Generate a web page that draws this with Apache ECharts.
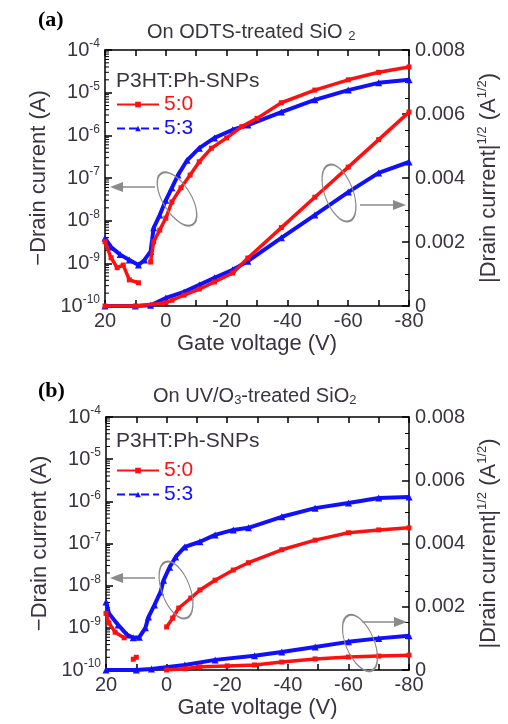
<!DOCTYPE html>
<html>
<head>
<meta charset="utf-8">
<script src="https://cdn.jsdelivr.net/npm/echarts@6/dist/echarts.min.js"></script>
<style>
html, body { margin: 0; padding: 0; background: #fff; }
#chart { width: 508px; height: 724px; }
</style>
</head>
<body>
<div id="chart"></div>
<script>
// (a) ODTS-treated SiO2, log branch, -Id (A)
var odtsRedLogVg = [20, 18, 16, 14, 12, 9, 7, 5, 4, 2, 0, -2, -5, -8, -11, -15, -20, -25, -30, -38, -49, -60, -70, -80];
var odtsRedLogI = [3.2e-9, 1.35e-9, 7.9e-10, 9.1e-10, 4.1e-10, 3.5e-10, null, 1.07e-9, 3.2e-9, 6.0e-9, 1.15e-8, 2.75e-8, 5.9e-8, 1.17e-7, 2.4e-7, 5.0e-7, 8.7e-7, 1.6e-6, 2.5e-6, 5.8e-6, 1.15e-5, 2.0e-5, 3.0e-5, 4.0e-5];
var odtsBlueLogVg = [20, 18, 15, 12, 9, 7, 5, 4, 2, 0, -2, -4, -7, -11, -16, -22, -27, -38, -49, -60, -70, -80];
var odtsBlueLogI = [3.9e-9, 2.4e-9, 1.6e-9, 1.2e-9, 9.1e-10, 1.2e-9, 1.9e-9, 6.8e-9, 1.35e-8, 3.0e-8, 5.9e-8, 1.17e-7, 2.6e-7, 5.0e-7, 8.7e-7, 1.35e-6, 1.74e-6, 3.5e-6, 6.8e-6, 1.15e-5, 1.7e-5, 2.0e-5];
// (a) sqrt branch, |Id|^1/2
var odtsRedSqVg = [20, 10, 0, -2, -6, -11, -16, -22, -27, -38, -49, -60, -70, -80];
var odtsRedSq = [0, 0, 0.0001, 0.00018, 0.00034, 0.00053, 0.00075, 0.00103, 0.0015, 0.00245, 0.0034, 0.00434, 0.0052, 0.00606];
var odtsBlueSqVg = [20, 10, 5, 0, -6, -11, -16, -22, -27, -38, -49, -60, -70, -80];
var odtsBlueSq = [0, 0, 0.00002, 0.00025, 0.00044, 0.00066, 0.00088, 0.00113, 0.0014, 0.00213, 0.00284, 0.00356, 0.00416, 0.0045];

// (b) UV/O3-treated SiO2
var uvRedLogVg = [20, 19, 17, 14, 12, 11, 10, 5, 0, -2, -4, -8, -11, -16, -22, -27, -38, -49, -60, -70, -80];
var uvRedLogI = [2.2e-9, 1.3e-9, 7.9e-10, 5.8e-10, null, 1.8e-10, 2.0e-10, null, 1.05e-9, 1.7e-9, 2.95e-9, 5.1e-9, 7.9e-9, 1.35e-8, 2.35e-8, 3.5e-8, 7.1e-8, 1.2e-7, 1.8e-7, 2.1e-7, 2.35e-7];
var uvBlueLogVg = [20, 19, 16, 13, 11, 9, 7, 6, 4, 2, 1, -1, -3, -6, -11, -16, -22, -27, -38, -49, -60, -70, -80];
var uvBlueLogI = [4.1e-9, 2.2e-9, 1.17e-9, 6.8e-10, 5.8e-10, 6.0e-10, 1.0e-9, 1.8e-9, 3.5e-9, 7.1e-9, 1.35e-8, 2.75e-8, 4.8e-8, 8.3e-8, 1.1e-7, 1.6e-7, 2.1e-7, 2.35e-7, 4.3e-7, 6.9e-7, 9.1e-7, 1.2e-6, 1.26e-6];
var uvRedSqVg = [0, -6, -11, -20, -29, -38, -49, -60, -70, -80];
var uvRedSq = [0, 0.00004, 0.0001, 0.00013, 0.00016, 0.00025, 0.00035, 0.00041, 0.00044, 0.00047];
var uvBlueSqVg = [20, 10, 5, -6, -16, -29, -38, -49, -60, -70, -80];
var uvBlueSq = [0, 0, 0.00003, 0.00016, 0.00032, 0.00045, 0.00057, 0.00073, 0.00089, 0.001, 0.00108];

// log axis minor ticks: 2..9 x 10^n
var logDecades = [-10, -9, -8, -7, -6, -5];
var logMinorMult = [2, 3, 4, 5, 6, 7, 8, 9];

var txt = '#3a3340';
var font = 'Liberation Sans';
var red = '#ff1010';
var blue = '#1010ff';

function pairs(vg, val) {
	return vg.map(function (v, i) { return [v, val[i] === null ? '-' : val[i]]; });
}

var minorTicks = [];
logDecades.forEach(function (d) {
	logMinorMult.forEach(function (m) { minorTicks.push([20, m * Math.pow(10, d)]); });
});

function xAx(grid, pos) {
	return {
		gridIndex: grid, type: 'value', min: -80, max: 20, interval: 10, inverse: true, position: pos,
		name: pos == 'bottom' ? 'Gate voltage (V)' : '', nameLocation: 'middle', nameGap: 27,
		nameTextStyle: { color: txt, fontSize: 22, fontFamily: font },
		axisLine: { onZero: false, lineStyle: { color: '#000', width: 1.5 } },
		axisTick: { inside: true, length: 6, lineStyle: { color: '#000', width: 1.5 } },
		axisLabel: {
			show: pos == 'bottom', color: txt, fontSize: 20, fontFamily: font, margin: 5,
			formatter: function (v) { return v % 20 == 0 ? String(v) : ''; }
		},
		splitLine: { show: false }
	};
}

function logAx(grid) {
	return {
		gridIndex: grid, type: 'log', min: 1e-10, max: 1e-4, position: 'left',
		name: '−Drain current (A)', nameLocation: 'middle', nameGap: 54, nameRotate: 90,
		nameTextStyle: { color: txt, fontSize: 22, fontFamily: font },
		axisLine: { onZero: false, lineStyle: { color: '#000', width: 1.5 } },
		axisTick: { inside: true, length: 7, lineStyle: { color: '#000', width: 1.5 } },
		minorTick: { show: false },
		axisLabel: {
			margin: 5, color: txt, fontFamily: font,
			formatter: function (v) { return '{b|10}{s|' + Math.round(Math.log10(v)) + '}'; },
			rich: {
				b: { fontSize: 20, lineHeight: 24, color: txt, fontFamily: font },
				s: { fontSize: 12, verticalAlign: 'top', color: txt, fontFamily: font }
			}
		},
		splitLine: { show: false }
	};
}

function sqAx(grid) {
	return {
		gridIndex: grid, type: 'value', min: 0, max: 0.008, interval: 0.002, position: 'right',
		name: '{n||Drain current|}{s|1/2}{n| (A}{s|1/2}{n|)}', nameLocation: 'middle', nameGap: 64, nameRotate: 90,
		nameTextStyle: {
			color: txt, fontFamily: font,
			rich: {
				n: { fontSize: 22, lineHeight: 26, color: txt, fontFamily: font },
				s: { fontSize: 13, verticalAlign: 'top', color: txt, fontFamily: font }
			}
		},
		axisLine: { onZero: false, lineStyle: { color: '#000', width: 1.5 } },
		axisTick: { inside: true, length: 7, lineStyle: { color: '#000', width: 1.5 } },
		minorTick: { show: true, splitNumber: 4, length: 4, lineStyle: { color: '#000', width: 1 } },
		axisLabel: {
			margin: 6, color: txt, fontSize: 20, fontFamily: font,
			formatter: function (v) { return v == 0 ? '0' : v.toFixed(3); }
		},
		splitLine: { show: false }
	};
}

function ser(name, xi, yi, data, color) {
	var isRed = name == '5:0';
	return {
		name: name, type: 'line', xAxisIndex: xi, yAxisIndex: yi, data: data,
		showAllSymbol: true, symbol: isRed ? 'rect' : 'triangle', symbolSize: isRed ? 5 : 7,
		itemStyle: { color: color },
		lineStyle: { color: color, width: isRed ? 3.5 : 4 },
		animation: false, z: isRed ? 3 : 2
	};
}

// short inward ticks at 2..9 of every decade on the log axis
function minorSer(xi, yi) {
	return {
		type: 'custom', xAxisIndex: xi, yAxisIndex: yi, data: minorTicks, silent: true, clip: false,
		renderItem: function (params, api) {
			var p = api.coord([api.value(0), api.value(1)]);
			return {
				type: 'line', shape: { x1: p[0], y1: p[1], x2: p[0] + 4, y2: p[1] },
				style: { stroke: '#000', lineWidth: 1 }
			};
		}
	};
}

function legend(top) {
	return {
		left: 116, top: top, orient: 'vertical', itemGap: 3, itemWidth: 42, itemHeight: 7,
		selectedMode: false, padding: 0,
		lineStyle: { width: 2 },
		textStyle: { fontSize: 21, fontFamily: font },
		data: [
			{ name: '5:0', textStyle: { color: red } },
			{ name: '5:3', textStyle: { color: blue }, lineStyle: { type: 'dashed', width: 2 } }
		]
	};
}

function ellipse(cx, cy, rot) {
	return {
		type: 'circle', shape: { cx: 0, cy: 0, r: 30 }, x: cx, y: cy, scaleX: 0.47, rotation: rot,
		style: { fill: 'none', stroke: '#8a8a8a', lineWidth: 2.2 }, z: 10
	};
}

function arrow(x1, x2, y) {
	var d = x2 > x1 ? 1 : -1;
	return [
		{ type: 'line', shape: { x1: x1, y1: y, x2: x2 - d * 10, y2: y }, style: { stroke: '#8a8a8a', lineWidth: 1.6 }, z: 10 },
		{ type: 'polygon', shape: { points: [[x2, y], [x2 - d * 13, y - 5], [x2 - d * 13, y + 5]] }, style: { fill: '#8a8a8a' }, z: 10 }
	];
}

var titleRich = {
	t: { fontSize: 20, fontWeight: 'normal', color: txt, fontFamily: font, lineHeight: 22 },
	sub: { fontSize: 13, fontWeight: 'normal', color: txt, fontFamily: font, verticalAlign: 'bottom' }
};

var chart = echarts.init(document.getElementById('chart'));
chart.setOption({
	animation: false,
	title: [
		{ text: '(a)', left: 38, top: 9, padding: 0, textStyle: { fontFamily: 'Liberation Serif', fontWeight: 'bold', fontSize: 22, color: '#000' } },
		{ text: '{t|On ODTS-treated SiO }{sub|2}', left: 147, top: 21, padding: 0, textStyle: { fontWeight: 'normal', rich: titleRich } },
		{ text: 'P3HT:Ph-SNPs', left: 116, top: 71, padding: 0, textStyle: { fontSize: 21, fontWeight: 'normal', color: txt, fontFamily: font } },
		{ text: '(b)', left: 38, top: 380, padding: 0, textStyle: { fontFamily: 'Liberation Serif', fontWeight: 'bold', fontSize: 22, color: '#000' } },
		{ text: '{t|On UV/O}{sub|3}{t|-treated SiO}{sub|2}', left: 153, top: 385, padding: 0, textStyle: { fontWeight: 'normal', rich: titleRich } },
		{ text: 'P3HT:Ph-SNPs', left: 116, top: 431, padding: 0, textStyle: { fontSize: 21, fontWeight: 'normal', color: txt, fontFamily: font } }
	],
	legend: [legend(94), legend(460)],
	grid: [
		{ left: 105, top: 50, width: 307, height: 256 },
		{ left: 106, top: 417, width: 306, height: 253 }
	],
	xAxis: [xAx(0, 'bottom'), xAx(0, 'top'), xAx(1, 'bottom'), xAx(1, 'top')],
	yAxis: [logAx(0), sqAx(0), logAx(1), sqAx(1)],
	series: [
		minorSer(0, 0),
		minorSer(2, 2),
		ser('5:0', 0, 0, pairs(odtsRedLogVg, odtsRedLogI), red),
		ser('5:3', 0, 0, pairs(odtsBlueLogVg, odtsBlueLogI), blue),
		ser('5:0', 0, 1, pairs(odtsRedSqVg, odtsRedSq), red),
		ser('5:3', 0, 1, pairs(odtsBlueSqVg, odtsBlueSq), blue),
		ser('5:0', 2, 2, pairs(uvRedLogVg, uvRedLogI), red),
		ser('5:3', 2, 2, pairs(uvBlueLogVg, uvBlueLogI), blue),
		ser('5:0', 2, 3, pairs(uvRedSqVg, uvRedSq), red),
		ser('5:3', 2, 3, pairs(uvBlueSqVg, uvBlueSq), blue)
	],
	graphic: [
		ellipse(177, 199, 0.55),
		ellipse(339, 193, 0.36),
		ellipse(176, 590, 0.36),
		ellipse(360, 643, 0.4)
	].concat(arrow(155, 110, 187), arrow(360, 406, 205), arrow(155, 110, 578), arrow(362, 407, 622))
});
</script>
</body>
</html>
